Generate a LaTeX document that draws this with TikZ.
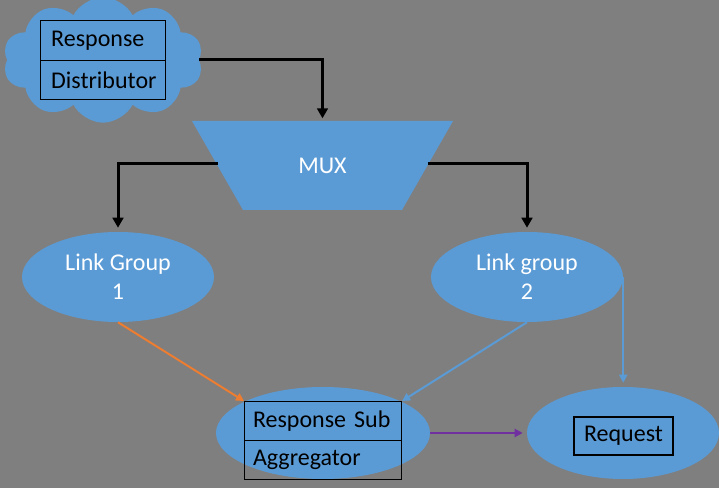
\documentclass[tikz,border=0pt]{standalone}
\usepackage{fontspec}
\setmainfont{Carlito}
\usetikzlibrary{shapes.geometric,shapes.symbols,arrows.meta}
\definecolor{bg}{HTML}{7F7F7F}
\definecolor{oblue}{HTML}{5B9BD5}
\definecolor{oorange}{HTML}{ED7D31}
\definecolor{opurple}{HTML}{7030A0}
\begin{document}
\begin{tikzpicture}[x=0.75pt,y=-0.75pt,
 every node/.style={font=\fontsize{18}{22}\selectfont},
 blob/.style={ellipse, fill=oblue, draw=none, inner sep=0pt, text=white, align=center},
 lbox/.style={draw=black, line width=0.8pt, anchor=north west, inner xsep=8pt, inner ysep=0pt, align=left, text=black},
 blk/.style={draw=black, line width=2.25pt, -{Triangle[width=8pt,length=7.5pt]}},
 col/.style={line width=1.5pt, -{Triangle[width=6pt,length=6pt]}}]
\fill[bg] (0,0) rectangle (719,488);
\useasboundingbox (0,0) rectangle (719,488);
% cloud
\node[cloud, cloud puffs=10, cloud puff arc=125, fill=oblue, minimum width=150pt, minimum height=94pt, inner sep=0pt] (cloud) at (103,60) {};
\node[lbox, text width=78pt, minimum height=30pt] (resp) at (40,20) {Response};
\node[lbox, text width=78pt, minimum height=29.25pt] (dist) at (40,60) {Distributor};
% mux (inverted trapezoid)
\fill[oblue] (192,121) -- (453,121) -- (402,210) -- (243,210) -- cycle;
\node[text=white, inner sep=0pt] (mux) at (322.5,165.5) {MUX};
\coordinate (muxN) at (322.5,121);
\coordinate (muxW) at (217.5,164);
\coordinate (muxE) at (427.5,164);
% link groups
\node[blob, minimum width=144pt, minimum height=67.5pt] (lg1) at (118,277) {Link Group\\1};
\node[blob, minimum width=144pt, minimum height=67.5pt] (lg2) at (527,277) {Link group\\2};
% aggregator
\node[blob, minimum width=160.5pt, minimum height=69pt] (agg) at (323,433) {};
\node[lbox, inner xsep=6.375pt, text width=105pt, minimum height=29.25pt] (rs) at (244,401) {Response Sub};
\node[lbox, inner xsep=6.375pt, text width=105pt, minimum height=29.25pt] (ag) at (244,440) {Aggregator};
% request
\node[blob, minimum width=144pt, minimum height=69pt] (req) at (623,433) {};
\node[draw=black, line width=0.8pt, minimum width=74.25pt, minimum height=28.5pt, inner sep=0pt, text=black] (reqbox) at (623.5,436) {Request};
% connectors
\draw[blk, shorten >=2pt] (cloud.east) -| (muxN);
\draw[blk, shorten >=3pt] (muxW) -| (lg1.north);
\draw[blk, shorten >=3pt] (muxE) -| (lg2.north);
\draw[col, draw=oblue, shorten >=3pt] (lg2.east) -- (lg2.east |- req.north);
\draw[col, draw=oorange] (lg1.south) -- (rs.north west);
\draw[col, draw=oblue] (lg2.south) -- (rs.north east);
\draw[col, draw=opurple, shorten >=3pt] (agg.east) -- (req.west);
\end{tikzpicture}
\end{document}
